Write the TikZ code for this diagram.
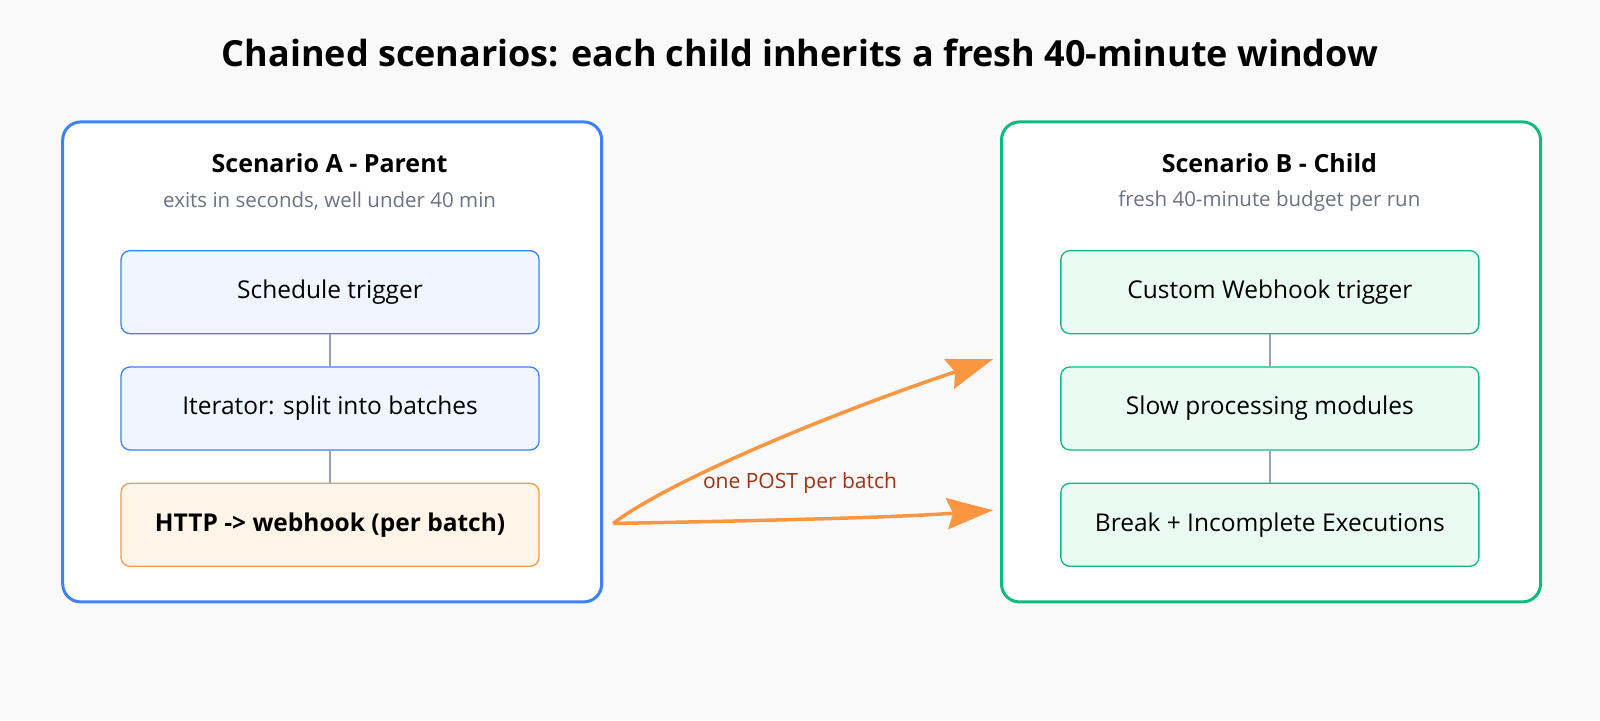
\documentclass[tikz,border=0pt]{standalone}
\usepackage{fontspec}
\setmainfont{Open Sans}
\usetikzlibrary{arrows.meta}
\definecolor{bg}{HTML}{F9F9F9}
\definecolor{blu}{HTML}{3B82F6}
\definecolor{blufill}{HTML}{EFF6FF}
\definecolor{grn}{HTML}{10B981}
\definecolor{grnfill}{HTML}{EAFBF3}
\definecolor{org}{HTML}{F59A4A}
\definecolor{orgfill}{HTML}{FFF4E8}
\definecolor{arr}{HTML}{FB9640}
\definecolor{conn}{HTML}{94A3B8}
\definecolor{sub}{HTML}{6B7280}
\definecolor{lbl}{HTML}{9A3412}
\begin{document}
\begin{tikzpicture}[x=1.0204pt,y=-1.0204pt,
  outer/.style={draw,line width=3pt,fill=white,rounded corners=18pt,minimum width=539pt,minimum height=480pt,anchor=north west,inner sep=0},
  stepbox/.style={draw,line width=1.3pt,rounded corners=9pt,minimum width=418pt,minimum height=83pt,font=\fontsize{24.5}{29}\selectfont,anchor=north west,inner sep=0},
  head/.style={font=\fontsize{25}{30}\selectfont\bfseries},
  subt/.style={font=\fontsize{20.5}{24}\selectfont,text=sub},
  link/.style={draw=conn,line width=2pt},
  flow/.style={draw=arr,line width=3.5pt,-{Stealth[length=46pt,width=31pt,inset=6pt]}}]
\fill[bg] (0,0) rectangle (1568,705.6);
\useasboundingbox (0,0) rectangle (1568,705.6);
\node[font=\fontsize{36}{42}\selectfont\bfseries] (title) at (784,52) {Chained scenarios: each child inherits a fresh 40-minute window};
\node[outer,draw=blu] (A) at (60,118) {};
\node[outer,draw=grn] (B) at (980,118) {};
\node[head] (ha) at (323,160) {Scenario A - Parent};
\node[subt] (sa) at (323,197) {exits in seconds, well under 40 min};
\node[head] (hb) at (1244,160) {Scenario B - Child};
\node[subt] (sb) at (1244,197) {fresh 40-minute budget per run};
\node[stepbox,draw=blu,fill=blufill] (a1) at (118,245) {Schedule trigger};
\node[stepbox,draw=blu,fill=blufill] (a2) at (118,359) {Iterator: split into batches};
\node[stepbox,draw=org,fill=orgfill,font=\fontsize{24.5}{29}\selectfont\bfseries] (a3) at (118,473) {HTTP -> webhook (per batch)};
\node[stepbox,draw=grn,fill=grnfill] (b1) at (1039,245) {Custom Webhook trigger};
\node[stepbox,draw=grn,fill=grnfill] (b2) at (1039,359) {Slow processing modules};
\node[stepbox,draw=grn,fill=grnfill] (b3) at (1039,473) {Break + Incomplete Executions};
\draw[link] (a1) -- (a2); \draw[link] (a2) -- (a3);
\draw[link] (b1) -- (b2); \draw[link] (b2) -- (b3);
\coordinate (src) at ([xshift=10pt]A.east |- 0,513);
\coordinate (t1) at ([xshift=-7pt]B.west |- 0,352);
\coordinate (t2) at ([xshift=-7pt]B.west |- 0,500);
\draw[flow] (src) .. controls (650,475) and (800,410) .. (t1);
\draw[flow] (src) .. controls (760,510) and (880,507) .. (t2);
\node[font=\fontsize{21}{25}\selectfont,text=lbl] (lab) at (784,473) {one POST per batch};
\end{tikzpicture}
\end{document}
